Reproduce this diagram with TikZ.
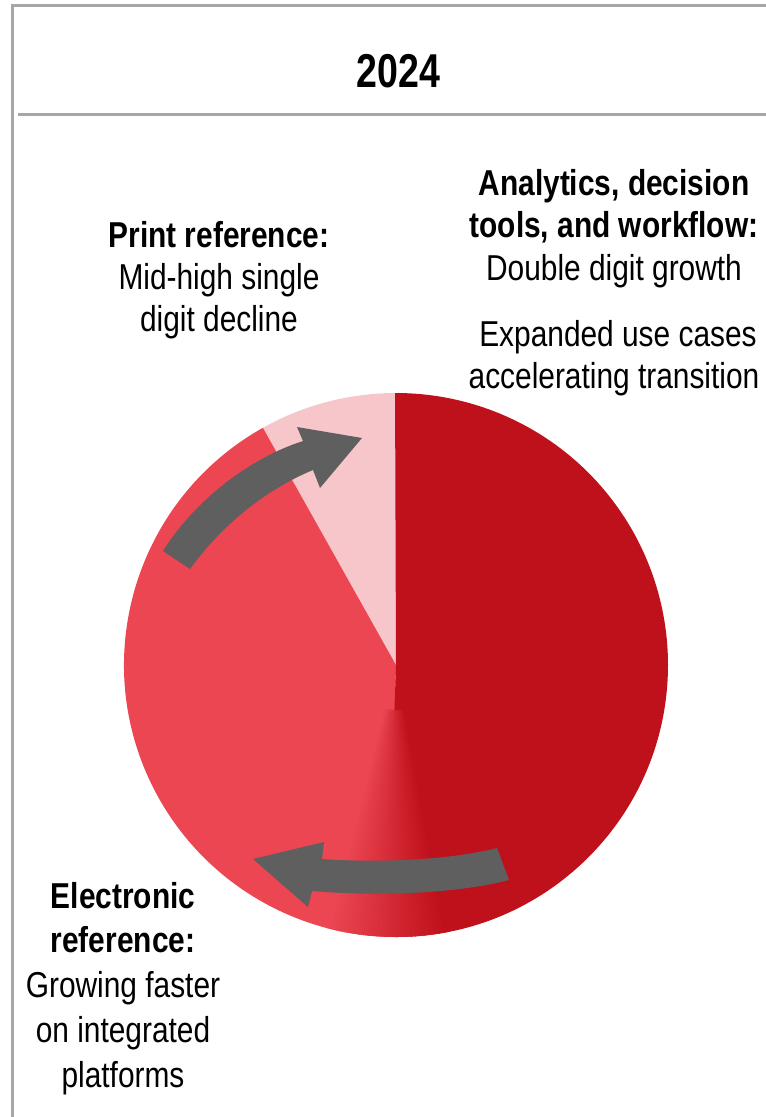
\documentclass[tikz,border=0pt]{standalone}
\usepackage{fontspec}
\setmainfont[FakeStretch=0.83]{Liberation Sans}
\newfontfamily\narrowfont[FakeStretch=0.79]{Liberation Sans}
\definecolor{framegray}{HTML}{A6A6A6}
\definecolor{darkc}{HTML}{BE111B}
\definecolor{medc}{HTML}{EC4652}
\definecolor{pinkc}{HTML}{F7C6CA}
\definecolor{arrowgray}{HTML}{5F5F5F}
\tikzset{
  frameline/.style={draw=framegray, line width=3pt},
  txt/.style={anchor=base, inner sep=0pt, font=\fontsize{36}{40}\selectfont},
  btxt/.style={txt, font=\fontsize{36}{40}\selectfont\bfseries},
  bigarrow/.style={fill=arrowgray},
}
\begin{document}
\begin{tikzpicture}[x=1pt,y=-1pt]
\useasboundingbox (0,0) rectangle (766,1117);
% frame
\draw[frameline] (10.5,5) -- (766,5);
\draw[frameline] (12,3.5) -- (12,1117);
\draw[frameline] (18,114) -- (766,114);
% title
\node[anchor=base, inner sep=0pt, font=\narrowfont\bfseries\fontsize{47.5}{50}\selectfont] (title) at (398.5,87) {2024};
% pie
\begin{scope}[shift={(396,665)},yscale=-1]
  \fill[pinkc] (0,0) -- (90:272) arc[start angle=90,end angle=119.3,radius=272] -- cycle;
  \fill[medc] (0,0) -- (119.3:272) arc[start angle=119.3,end angle=268.5,radius=272] -- cycle;
  \fill[darkc] (0,0) -- (268:272) arc[start angle=268,end angle=450.2,radius=272] -- cycle;
  \foreach \i in {0,...,25}{
    \pgfmathtruncatemacro\p{\i*4}
    \pgfmathsetmacro\a{255+\i}
    \pgfmathsetmacro\b{\a+1.3}
    \fill[darkc!\p!medc] (\a:45) -- (\a:272) arc[start angle=\a,end angle=\b,radius=272]
      -- (\b:45) arc[start angle=\b,end angle=\a,radius=45] -- cycle;
  }
\end{scope}
% arrows
\fill[bigarrow] (163,551) .. controls (195,500) and (250,458) .. (303,441)
  -- (297,427) -- (362,438) -- (320,488) -- (313,470)
  .. controls (265,490) and (222,525) .. (190,569) -- cycle;
\fill[bigarrow] (497,848) .. controls (450,860) and (380,863) .. (322,859)
  -- (324,842) -- (253,859) -- (308,907) -- (312,891)
  .. controls (380,897) and (460,893) .. (509,880) -- cycle;
% texts left top
\node[btxt] (p1) at (219,247) {Print reference:};
\node[txt] (p2) at (219,289) {Mid-high single};
\node[txt] (p3) at (219,331.5) {digit decline};
% texts right
\node[btxt] (a1) at (614,195.5) {Analytics, decision};
\node[btxt] (a2) at (614,237.5) {tools, and workflow:};
\node[txt] (a3) at (614,280) {Double digit growth};
\node[txt] (a4) at (618,346) {Expanded use cases};
\node[txt] (a5) at (614,388) {accelerating transition};
% texts bottom left
\node[btxt] (e1) at (123,908) {Electronic};
\node[btxt] (e2) at (123,952.5) {reference:};
\node[txt] (e3) at (123,997) {Growing faster};
\node[txt] (e4) at (123,1042) {on integrated};
\node[txt] (e5) at (123,1087) {platforms};
\end{tikzpicture}
\end{document}
